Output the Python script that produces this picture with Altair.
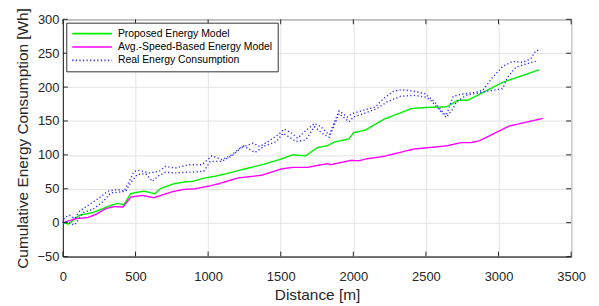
import altair as alt
import pandas as pd

# Proposed Energy Model
prop_d = [0, 40, 114, 207, 319, 376, 421, 467, 558, 633, 672, 763, 843, 899, 956, 1070,
          1229, 1389, 1503, 1582, 1673, 1753, 1822, 1867, 1969, 2003, 2083, 2208, 2402,
          2504, 2641, 2721, 2789, 3028, 3278]
prop_v = [0, -2, 11, 15, 24.6, 28.5, 26.6, 43, 46.5, 42.7, 50.4, 57.3, 60.2, 61, 65, 69.4,
          78, 86.5, 93.9, 100, 98.7, 110.8, 113.5, 118.7, 123.5, 132.8, 136.7, 152.3, 168.4,
          170, 170.8, 180.6, 180.6, 207, 225.4]

# Avg.-Speed-Based Energy Model
avg_d = [0, 91, 171, 228, 296, 353, 414, 467, 546, 626, 660, 753, 831, 911, 1002, 1070,
         1207, 1368, 1503, 1582, 1685, 1753, 1822, 1845, 1981, 2038, 2094, 2208, 2414,
         2641, 2743, 2811, 2870, 3073, 3305]
avg_v = [0, 6, 7.5, 12.4, 20.8, 23.7, 23, 37.7, 40.2, 36.8, 39.2, 45.6, 49, 50, 53.8, 57.3,
         66, 69.9, 79.2, 81.6, 81.6, 84.5, 87, 85.5, 91.8, 91.4, 94.3, 97.7, 108.5,
         113.3, 118.1, 118.1, 121, 142.5, 153.8]

# Real Energy Consumption (upper trace)
real_a_d = [0, 12, 46, 80, 114, 184, 252, 309, 377, 421, 457, 490, 525, 594, 662, 706, 774,
            866, 958, 1026, 1095, 1163, 1219, 1309, 1355, 1412, 1480, 1525, 1571, 1616, 1663,
            1732, 1777, 1834, 1902, 1959, 1993, 2073, 2152, 2208, 2277, 2334, 2414, 2493,
            2561, 2606, 2641, 2687, 2732, 2823, 2891, 2960, 3028, 3096, 3165, 3221, 3256, 3290]
real_a_v = [0, 7.6, 11, 6, 17, 27, 36.8, 46.5, 49, 46.5, 61, 75.7, 77, 73.4, 75.7, 83, 80.6,
            85.5, 85.5, 98.7, 92.8, 100, 110, 117.3, 112.3, 119.6, 129.4, 138, 132.7, 124.6, 134,
            146.5, 141.5, 129.4, 165, 156, 161, 166, 170.8, 183, 194, 196.2, 194, 190.3,
            178, 165, 158.6, 186.4, 188.9, 191.8, 195.2, 214.6, 230.3, 238, 236.5, 241.5, 253.7, 254.7]

# Real Energy Consumption (lower trace)
real_b_d = [0, 12, 80, 139, 207, 273, 330, 387, 433, 467, 512, 570, 616, 660, 706, 774, 854,
            970, 1015, 1095, 1173, 1241, 1322, 1390, 1470, 1516, 1607, 1673, 1732, 1800, 1834,
            1902, 1970, 2003, 2073, 2163, 2231, 2324, 2414, 2493, 2529, 2584, 2641, 2687, 2709,
            2777, 2891, 3028, 3062, 3119, 3187, 3256]
real_b_v = [0, 2.6, -3.6, 14.9, 19.7, 30.4, 44, 45, 46.5, 58.8, 71, 72.4, 61, 69.4, 74.3, 73.4,
            74.3, 75.7, 90.4, 90.4, 100, 113.3, 103.5, 113.3, 119.6, 131.9, 119.6, 122, 141.5,
            129.4, 126, 161, 148.8, 156, 161, 168.4, 178, 186.4, 187.9, 185.4, 181.6, 168.4,
            155.3, 168.4, 178, 187.9, 192.7, 197.6, 214.6, 229.2, 234, 238]

series_names = ["Proposed Energy Model", "Avg.-Speed-Based Energy Model", "Real Energy Consumption"]
series_colors = ["#00ee00", "#ff00ff", "#2a2aff"]
x_ticks = [0, 500, 1000, 1500, 2000, 2500, 3000, 3500]
y_ticks = [-50, 0, 50, 100, 150, 200, 250, 300]

rows = []
for d, v in zip(prop_d, prop_v):
    rows.append({"d": d, "v": v, "s": series_names[0], "t": "p"})
for d, v in zip(avg_d, avg_v):
    rows.append({"d": d, "v": v, "s": series_names[1], "t": "a"})
for d, v in zip(real_a_d, real_a_v):
    rows.append({"d": d, "v": v, "s": series_names[2], "t": "r1"})
for d, v in zip(real_b_d, real_b_v):
    rows.append({"d": d, "v": v, "s": series_names[2], "t": "r2"})
df = pd.DataFrame(rows)

W, H = 512, 239
TXT = "#262626"
TL = 5  # inward tick length

xs = alt.Scale(domain=[0, 3500], nice=False, zero=False)
ys = alt.Scale(domain=[-50, 300], nice=False, zero=False)

x_axis = alt.Axis(values=x_ticks, grid=True, tickSize=0, labelPadding=14,
                  titlePadding=4, format="d", labelOverlap=False, labelFlush=False,
                  title="Distance [m]")
y_axis = alt.Axis(values=y_ticks, grid=True, tickSize=0, labelPadding=4,
                  titlePadding=7, format="d", labelOverlap=False, labelFlush=False,
                  title="Cumulative Energy Consumption [Wh]")

leg = alt.Legend(title=None, orient="none", legendX=3.4, legendY=3.4,
                 symbolType="M-4,0H4", symbolSize=100, symbolOffset=15,
                 symbolStrokeWidth=1.6, labelFontSize=10.5,
                 labelFont="Liberation Sans", labelColor="#000",
                 labelOffset=20, rowPadding=1.5, padding=5, labelLimit=400,
                 strokeColor="#333", fillColor="white",
                 labelExpr="datum.label + '\u00a0\u00a0\u00a0\u00a0\u00a0\u00a0\u00a0\u00a0\u00a0\u00a0\u00a0'")

lines = alt.Chart(df).mark_line(strokeWidth=1.4).encode(
    x=alt.X("d:Q", scale=xs, axis=x_axis, title="Distance [m]"),
    y=alt.Y("v:Q", scale=ys, axis=y_axis, title="Cumulative Energy Consumption [Wh]"),
    color=alt.Color("s:N", scale=alt.Scale(domain=series_names, range=series_colors),
                    legend=leg),
    strokeDash=alt.StrokeDash("s:N", scale=alt.Scale(domain=series_names,
                                                     range=[[1, 0], [1, 0], [1.2, 2.4]]),
                              legend=leg),
    detail="t:N",
    order="d:Q",
)

tick_df = pd.DataFrame({"xt": x_ticks})
ytick_df = pd.DataFrame({"yt": y_ticks})

xt_b = alt.Chart(tick_df).mark_rule(strokeWidth=1, color=TXT).encode(
    x=alt.X("xt:Q", scale=xs, axis=x_axis, title="Distance [m]"),
    y=alt.value(H), y2=alt.value(H - TL))
xt_t = alt.Chart(tick_df).mark_rule(strokeWidth=1, color=TXT).encode(
    x=alt.X("xt:Q", scale=xs, axis=x_axis, title="Distance [m]"),
    y=alt.value(0), y2=alt.value(TL))
yt_l = alt.Chart(ytick_df).mark_rule(strokeWidth=1, color=TXT).encode(
    y=alt.Y("yt:Q", scale=ys, axis=y_axis, title="Cumulative Energy Consumption [Wh]"),
    x=alt.value(0), x2=alt.value(TL))
yt_r = alt.Chart(ytick_df).mark_rule(strokeWidth=1, color=TXT).encode(
    y=alt.Y("yt:Q", scale=ys, axis=y_axis, title="Cumulative Energy Consumption [Wh]"),
    x=alt.value(W), x2=alt.value(W - TL))

chart = alt.layer(lines, xt_b, xt_t, yt_l, yt_r).properties(
    width=W, height=H,
    autosize=alt.AutoSizeParams(type="none"),
    padding={"left": 55.3, "top": 10.3, "right": 20, "bottom": 48},
).configure_view(
    stroke=TXT, strokeWidth=1
).configure_axis(
    labelFont="Liberation Sans", titleFont="Liberation Sans",
    labelFontSize=13, titleFontSize=15.5, titleFontWeight="normal",
    labelColor=TXT, titleColor=TXT, domainColor=TXT, gridColor="#e3e3e3",
    gridWidth=1, domain=True
)

chart.save("out.html", embed_options={"renderer": "svg", "actions": False})
